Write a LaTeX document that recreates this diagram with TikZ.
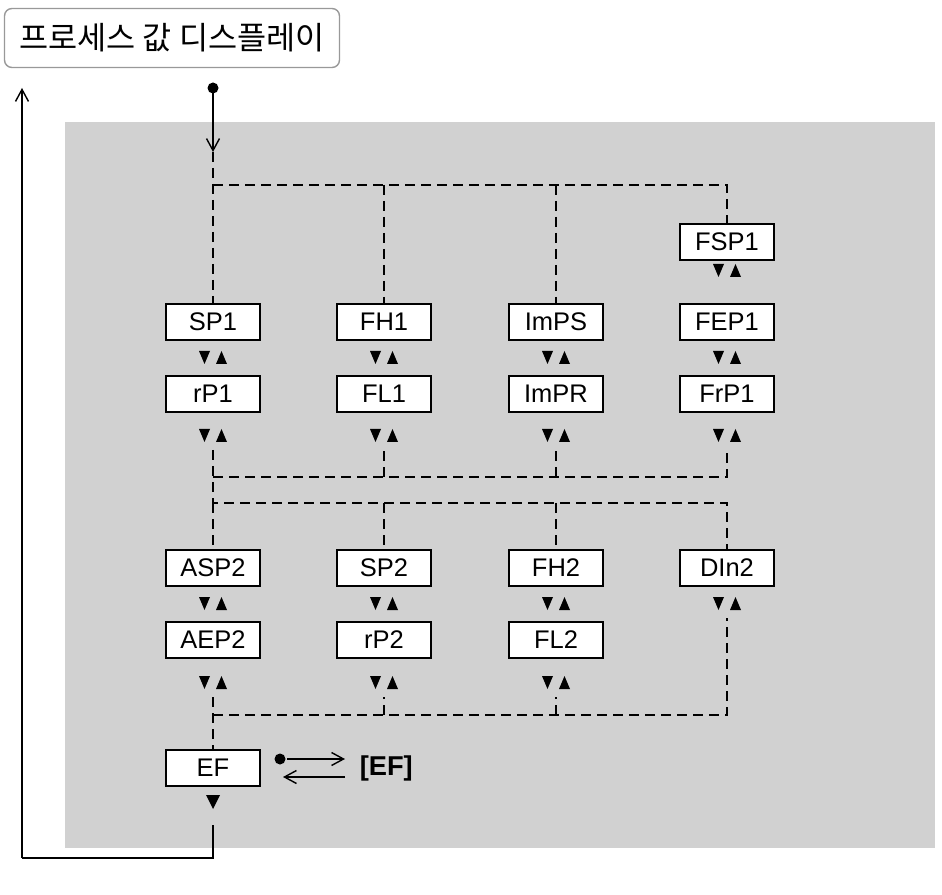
\documentclass[tikz,border=0pt]{standalone}
\usepackage{fontspec}
\setmainfont{Liberation Sans}
\newfontfamily\kor{Noto Sans CJK KR}
\usetikzlibrary{arrows,arrows.meta,positioning,calc}
\newcommand{\updn}[1]{%
\fill ($(#1)+(-14,-7)$) -- ($(#1)+(-3,-7)$) -- ($(#1)+(-8.5,6)$) -- cycle;
\fill ($(#1)+(3,6)$) -- ($(#1)+(14,6)$) -- ($(#1)+(8.5,-7)$) -- cycle;}
\begin{document}
\begin{tikzpicture}[x=0.2mm,y=-0.2mm,line width=1.1pt]
\tikzstyle{param}=[rectangle,draw=black,fill=white,line width=1.3pt,
minimum width=18.8mm,minimum height=7.2mm,inner sep=0pt,
font=\fontsize{14.5}{16}\selectfont]
\tikzstyle{dline}=[dash pattern=on 2mm off 1.2mm]
\tikzstyle{arr}=[-{Straight Barb[length=2.4mm,width=2.6mm]},line width=0.8pt]
\useasboundingbox (0,0) rectangle (942,895);
\fill[black!18] (65,122) rectangle (935,848);
\node[draw=black!40,rounded corners=1.5mm,line width=0.8pt,minimum width=67mm,
minimum height=11.8mm,font=\kor\fontsize{18}{20}\selectfont] (disp) at (172,38) {프로세스 값 디스플레이};
% first group
\node[param] (FSP1) at (727,242) {FSP1};
\node[param] (SP1) at (213,322) {SP1};
\node[param] (FH1) at (384,322) {FH1};
\node[param] (ImPS) at (556,322) {ImPS};
\node[param] (FEP1) at (727,322) {FEP1};
\node[param] (rP1) at (213,394) {rP1};
\node[param] (FL1) at (384,394) {FL1};
\node[param] (ImPR) at (556,394) {ImPR};
\node[param] (FrP1) at (727,394) {FrP1};
% second group
\node[param] (ASP2) at (213,568) {ASP2};
\node[param] (SP2) at (384,568) {SP2};
\node[param] (FH2) at (556,568) {FH2};
\node[param] (DIn2) at (727,568) {DIn2};
\node[param] (AEP2) at (213,640) {AEP2};
\node[param] (rP2) at (384,640) {rP2};
\node[param] (FL2) at (556,640) {FL2};
\node[param] (EF) at (213,768) {EF};
\node[font=\bfseries\fontsize{15.5}{17}\selectfont,anchor=west] (EFx) at (353,768) {[EF]};

\coordinate (start) at (213,88);
\coordinate (s1) at (213,152);
\coordinate (t0) at (213,185);
\coordinate (t3) at (727,185);
\coordinate (b0) at (213,477);
\coordinate (b3) at (727,477);
\coordinate (c0) at (213,503);
\coordinate (c3) at (727,503);
\coordinate (d0) at (213,715);
\coordinate (d3) at (727,715);
\coordinate (e0) at (213,825);
\coordinate (e1) at (213,858);
\coordinate (e2) at (22,858);
\coordinate (e3) at (22,88);

\fill (start) circle (5.5);
\draw[arr] (start) -- (s1);
\draw[dline] (s1) -- (SP1.north);
\draw[dline] (t0) -- (t3) -- (FSP1.north);
\draw[dline] (t0 -| FH1) -- (FH1.north);
\draw[dline] (t0 -| ImPS) -- (ImPS.north);
\draw[dline] (213,450) -- (c0) -- (c3) -- (DIn2.north);
\draw[dline] (b0) -- (b3) -- (727,450);
\draw[dline] (b0 -| FL1) -- (384,450);
\draw[dline] (b0 -| ImPR) -- (556,450);
\draw[dline] (c0 -| SP2) -- (SP2.north);
\draw[dline] (c0 -| FH2) -- (FH2.north);
\draw[dline] (c0) -- (ASP2.north);
\draw[dline] (213,697) -- (EF.north);
\draw[dline] (d0) -- (d3) -- (727,618);
\draw[dline] (d0 -| rP2) -- (384,697);
\draw[dline] (d0 -| FL2) -- (556,697);
\draw (e0) -- (e1) -- (e2);
\draw[arr] (e2) -- (e3);

\fill (280,759) circle (5.5);
\draw[arr] (287,759) -- (345,759);
\draw[arr] (345,777) -- (283,777);

\foreach \x in {213,384,556,727} {\updn{\x,358} \updn{\x,436}}
\foreach \x in {213,384,556,727} \updn{\x,604};
\foreach \x in {213,384,556} \updn{\x,683};
\updn{727,271}
\fill (206,795) -- (220,795) -- (213,809) -- cycle;
\end{tikzpicture}
\end{document}
